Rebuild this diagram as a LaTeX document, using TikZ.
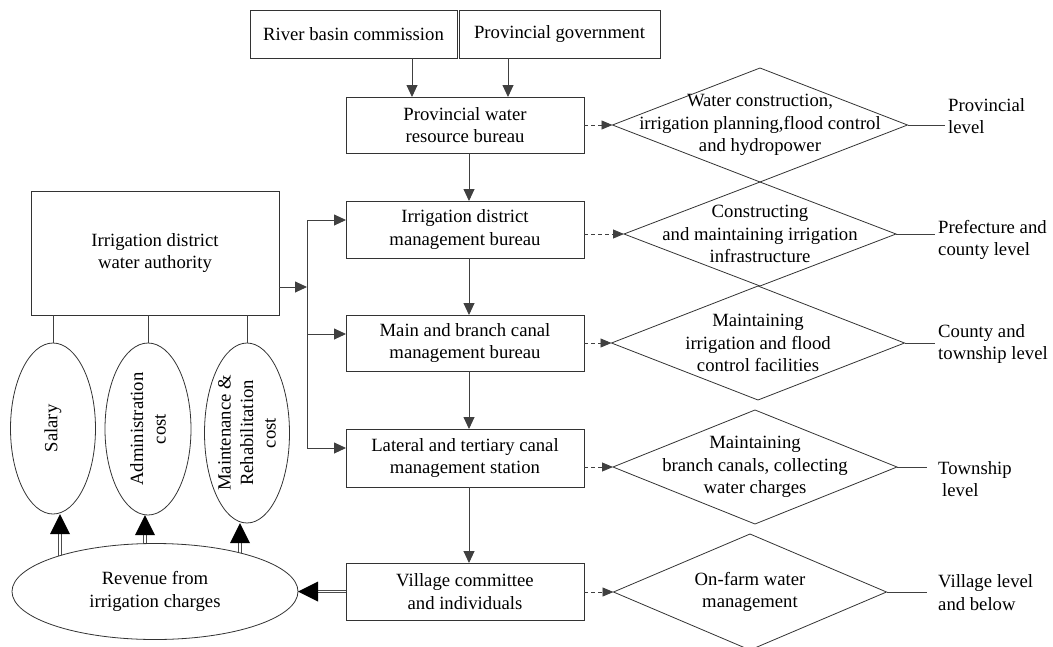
\documentclass[tikz,border=0pt]{standalone}
\usepackage{fontspec}
\setmainfont{Liberation Serif}
\usetikzlibrary{shapes.geometric,arrows.meta,backgrounds}
\begin{document}
\begin{tikzpicture}[x=1pt,y=-1pt,
  every node/.style={font=\fontsize{18.7}{22.5}\selectfont, text=black},
  box/.style={draw=black!80, line width=0.8pt, align=center, inner sep=0pt, outer sep=0pt},
  oval/.style={ellipse, draw=black!80, line width=0.8pt, inner sep=0pt, outer sep=0pt},
  dia/.style={diamond, draw=black!80, line width=0.8pt, inner sep=0pt, outer sep=0pt},
  txt/.style={align=center, inner sep=0pt},
  lab/.style={align=left, inner sep=0pt, anchor=west},
  conn/.style={draw=black!75, line width=0.9pt},
  arr/.style={conn, -{Triangle[width=11pt,length=12pt]}},
  darr/.style={conn, dash pattern=on 4pt off 3pt, -{Triangle[width=9pt,length=11pt]}},
  dbl/.style={draw=black!70, line width=0.7pt, double=white, double distance=1.8pt},
  bigtip/.style={fill=black}
]
\useasboundingbox (0,0) rectangle (1053,646);

% top boxes
\node[box, minimum width=207pt, minimum height=48pt] (rbc) at (353.5,34) {River basin commission};
\node[box, minimum width=201pt, minimum height=48pt] (pg) at (559.5,34) {Provincial government};

% centre column
\node[box, minimum width=238pt, minimum height=56pt] (pwrb) at (465,125) {Provincial water\\resource bureau};
\node[box, minimum width=238pt, minimum height=57pt] (idmb) at (465,229.5) {Irrigation district\\management bureau};
\node[box, minimum width=238pt, minimum height=56pt] (mbcmb) at (465,343) {Main and branch canal\\management bureau};
\node[box, minimum width=238pt, minimum height=58pt] (ltcms) at (465,458) {Lateral and tertiary canal\\management station};
\node[box, minimum width=238pt, minimum height=57pt] (vci) at (465,591.5) {Village committee\\and individuals};

% left side
\node[box, minimum width=248pt, minimum height=124pt] (auth) at (155,253) {Irrigation district\\water authority};
\node[oval, minimum width=85pt, minimum height=171pt] (sal) at (53,428.5) {};
\node[oval, minimum width=86pt, minimum height=172pt] (adm) at (148,429) {};
\node[oval, minimum width=85pt, minimum height=180pt] (mnt) at (247,433) {};
\node[txt, rotate=90] (salt) at (sal) {Salary};
\node[txt, rotate=90] (admt) at (adm) {Administration\\cost};
\node[txt, rotate=90] (mntt) at (mnt) {Maintenance \&\\Rehabilitation\\cost};
\node[oval, fill=white, minimum width=286pt, minimum height=96pt, align=center] (rev) at (155,591.5) {Revenue from\\irrigation charges};

% diamonds
\node[dia, minimum width=295pt, minimum height=114pt] (d1) at (760,125) {};
\node[dia, minimum width=272pt, minimum height=104pt] (d2) at (760,234) {};
\node[dia, minimum width=293pt, minimum height=114pt] (d3) at (758,343) {};
\node[dia, minimum width=284pt, minimum height=114pt] (d4) at (755,467) {};
\node[dia, minimum width=273pt, minimum height=116pt] (d5) at (750,592) {};
\node[txt] (d1t) at (d1) {Water construction,\\irrigation planning,flood control\\and hydropower};
\node[txt] (d2t) at (d2) {Constructing\\and maintaining irrigation\\infrastructure};
\node[txt] (d3t) at (d3) {Maintaining\\irrigation and flood\\control facilities};
\node[txt] (d4t) at (d4) {Maintaining\\branch canals, collecting\\water charges};
\node[txt] (d5t) at (d5) {On-farm water\\management};

% level labels
\node[lab] (l1) at (948,116) {Provincial\\level};
\node[lab] (l2) at (938,240) {Prefecture and\\county level};
\node[lab] (l3) at (938,344) {County and\\township level};
\node[lab] (l4) at (938,479) {Township\\\hspace*{4pt}level};
\node[lab] (l5) at (938,592.5) {Village level\\and below};
\draw[conn] (d1.east) -- ([xshift=-3pt]l1.west |- d1.east);
\draw[conn] (d2.east) -- ([xshift=-3pt]l2.west |- d2.east);
\draw[conn] (d3.east) -- ([xshift=-3pt]l3.west |- d3.east);
\draw[conn] (d4.east) -- ([xshift=-11pt]l4.west |- d4.east);
\draw[conn] (d5.east) -- ([xshift=-11pt]l5.west |- d5.east);

% top arrows
\coordinate (rbcout) at ([xshift=58.5pt]rbc.south);
\coordinate (pgout) at ([xshift=-51.5pt]pg.south);
\draw[arr] (rbcout) -- (rbcout |- pwrb.north);
\draw[arr] (pgout) -- (pgout |- pwrb.north);

% centre vertical arrows
\draw[arr] ([xshift=4pt]pwrb.south) -- ([xshift=4pt]idmb.north);
\draw[arr] ([xshift=4pt]idmb.south) -- ([xshift=4pt]mbcmb.north);
\draw[arr] ([xshift=4pt]mbcmb.south) -- ([xshift=4pt]ltcms.north);
\draw[arr] ([xshift=4pt]ltcms.south) -- ([xshift=4pt]vci.north);

% dashed arrows to diamonds
\draw[darr] (d1.west -| pwrb.east) -- (d1.west);
\draw[darr] (d2.west -| idmb.east) -- (d2.west);
\draw[darr] (d3.west -| mbcmb.east) -- (d3.west);
\draw[darr] (d4.west -| ltcms.east) -- (d4.west);
\draw[darr] (d5.west -| vci.east) -- (d5.west);

% bus from authority
\coordinate (bmid) at (307,287);
\coordinate (b1) at (307,220);
\coordinate (b2) at (307,334);
\coordinate (b3) at (307,448);
\draw[conn] (b1) -- (b3);
\draw[arr] (bmid -| auth.east) -- (bmid);
\draw[arr] (b1) -- (b1 -| idmb.west);
\draw[arr] (b2) -- (b2 -| mbcmb.west);
\draw[arr] (b3) -- (b3 -| ltcms.west);

% authority to cost ellipses
\draw[conn] (sal.north |- auth.south) -- (sal.north);
\draw[conn] (adm.north |- auth.south) -- (adm.north);
\draw[conn] (mnt.north |- auth.south) -- (mnt.north);

% double arrows
\coordinate (t1) at ([xshift=7pt]sal.south);
\coordinate (t2) at ([xshift=-3pt]adm.south);
\coordinate (t3) at ([xshift=-7pt]mnt.south);
\coordinate (t4) at (rev.east);
\begin{scope}[on background layer]
\draw[dbl] (t1 |- rev.center) -- ([yshift=-16pt]t1);
\draw[dbl] (t2 |- rev.center) -- ([yshift=-16pt]t2);
\draw[dbl] (t3 |- rev.center) -- ([yshift=-16pt]t3);
\end{scope}
\draw[dbl] (vci.west) -- ([xshift=16pt]t4);
\fill[bigtip] (t1) -- ++(-10,20) -- ++(20,0) -- cycle;
\fill[bigtip] (t2) -- ++(-10,20) -- ++(20,0) -- cycle;
\fill[bigtip] (t3) -- ++(-10,20) -- ++(20,0) -- cycle;
\fill[bigtip] (t4) -- ++(20,-10) -- ++(0,20) -- cycle;
\end{tikzpicture}
\end{document}
